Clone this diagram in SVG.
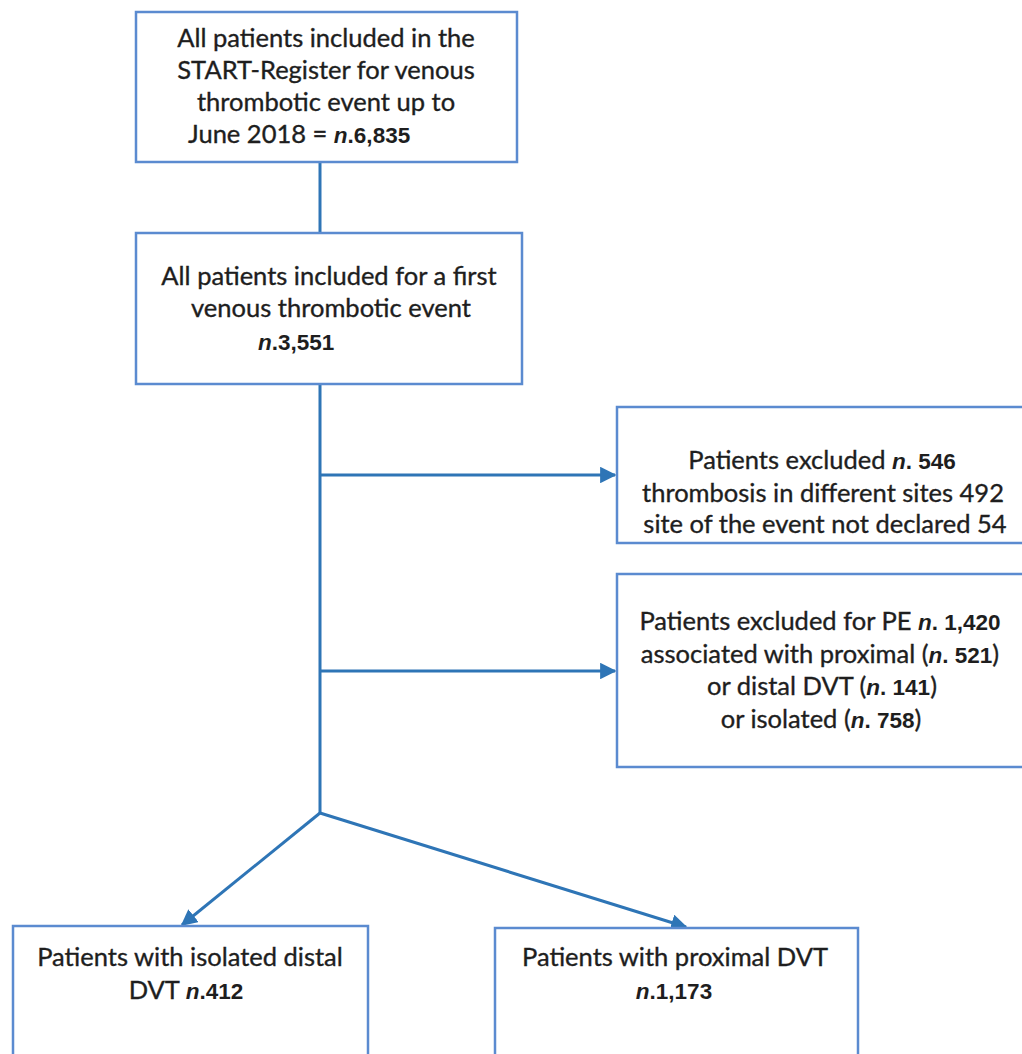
<svg xmlns="http://www.w3.org/2000/svg" width="1022" height="1054" viewBox="0 0 1022 1054">
<defs>
<marker id="ah" viewBox="0 0 10 10" refX="9" refY="5" markerWidth="5.5" markerHeight="5.5" orient="auto" markerUnits="strokeWidth">
<path d="M0,0 L10,5 L0,10 z" fill="#2e75b6"/>
</marker>
<style>
.box{fill:#fff;stroke:#5b8bd0;stroke-width:2.5}
.t{font-family:Lato,"Open Sans","Liberation Sans",sans-serif;font-size:25.5px;fill:#1e1e1e;stroke:#1e1e1e;stroke-width:0.35}
.m{text-anchor:middle}
.b{font-family:"Liberation Sans",Arial,sans-serif;font-weight:bold;font-size:22.5px;stroke-width:0}
.i{font-style:italic}
.c{fill:none;stroke:#2e75b6;stroke-width:3}
</style>
</defs>
<rect width="1022" height="1054" fill="#fff"/>
<g id="connectors">
<line class="c" x1="320" y1="162" x2="320" y2="233"/>
<line class="c" x1="320" y1="384" x2="320" y2="813"/>
<line class="c" x1="320" y1="475" x2="615" y2="475" marker-end="url(#ah)"/>
<line class="c" x1="320" y1="671" x2="615" y2="671" marker-end="url(#ah)"/>
<line class="c" x1="320" y1="813" x2="182" y2="925" marker-end="url(#ah)"/>
<line class="c" x1="320" y1="813" x2="686" y2="927" marker-end="url(#ah)"/>
</g>
<g id="n1">
<rect class="box" x="136" y="12" width="381" height="150"/>
<text class="t m" x="326" y="47">All patients included in the</text>
<text class="t m" x="326" y="79">START-Register for venous</text>
<text class="t m" x="326" y="111">thrombotic event up to</text>
<text class="t" x="188" y="143">June 2018 = <tspan class="b i">n</tspan><tspan class="b">.6,835</tspan></text>
</g>
<g id="n2">
<rect class="box" x="136" y="233" width="386" height="151"/>
<text class="t m" x="329" y="285">All patients included for a first</text>
<text class="t m" x="331" y="317">venous thrombotic event</text>
<text class="t" x="258" y="350"><tspan class="b i">n</tspan><tspan class="b">.3,551</tspan></text>
</g>
<g id="n3">
<rect class="box" x="617" y="407" width="410" height="136"/>
<text class="t m" x="822" y="469">Patients excluded <tspan class="b i">n</tspan><tspan class="b">. 546</tspan></text>
<text class="t m" x="823" y="502">thrombosis in different sites 492</text>
<text class="t m" x="825" y="533">site of the event not declared 54</text>
</g>
<g id="n4">
<rect class="box" x="617" y="574" width="410" height="193"/>
<text class="t m" x="820" y="630">Patients excluded for PE <tspan class="b i">n</tspan><tspan class="b">. 1,420</tspan></text>
<text class="t m" x="820" y="663">associated with proximal (<tspan class="b i">n</tspan><tspan class="b">. 521</tspan>)</text>
<text class="t m" x="822" y="695">or distal DVT (<tspan class="b i">n</tspan><tspan class="b">. 141</tspan>)</text>
<text class="t m" x="821" y="728">or isolated (<tspan class="b i">n</tspan><tspan class="b">. 758</tspan>)</text>
</g>
<g id="n5">
<rect class="box" x="13" y="926" width="355" height="140"/>
<text class="t m" x="190" y="966">Patients with isolated distal</text>
<text class="t m" x="186" y="999">DVT <tspan class="b i">n</tspan><tspan class="b">.412</tspan></text>
</g>
<g id="n6">
<rect class="box" x="495" y="928" width="363" height="140"/>
<text class="t m" x="675" y="966">Patients with proximal DVT</text>
<text class="t m" x="674" y="999"><tspan class="b i">n</tspan><tspan class="b">.1,173</tspan></text>
</g>
</svg>
